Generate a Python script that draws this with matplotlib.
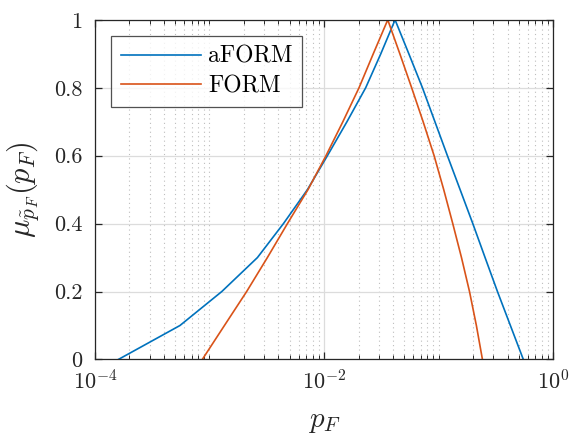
import numpy as np
import matplotlib
matplotlib.use('Agg')
import matplotlib.pyplot as plt
from matplotlib.ticker import LogLocator, NullFormatter

# LaTeX-like look
plt.rcParams['font.family'] = 'serif'
plt.rcParams['font.serif'] = ['cmr10']
plt.rcParams['mathtext.fontset'] = 'cm'
plt.rcParams['axes.formatter.use_mathtext'] = True

# membership levels (alpha-cuts), rising then falling branch
mu_levels = [0.0, 0.1, 0.2, 0.3, 0.4, 0.5, 0.6, 0.7, 0.8, 0.9, 1.0,
             0.9, 0.8, 0.7, 0.6, 0.5, 0.4, 0.3, 0.2, 0.1, 0.0]

# aFORM failure probabilities
pf_aform = [1.60e-4, 5.52e-4, 1.28e-3, 2.62e-3, 4.42e-3, 7.16e-3, 1.07e-2,
            1.585e-2, 2.31e-2, 3.13e-2, 4.17e-2,
            0.0550, 0.0723, 0.0929, 0.1194, 0.1542, 0.199, 0.2547, 0.3266, 0.4236, 0.5495]

# FORM failure probabilities
pf_form = [8.65e-4, 1.35e-3, 2.11e-3, 3.20e-3, 4.79e-3, 7.24e-3, 1.04e-2,
           1.46e-2, 2.02e-2, 2.69e-2, 3.60e-2,
           0.0459, 0.0582, 0.0733, 0.0914, 0.1109, 0.1330, 0.1585, 0.1862, 0.2138, 0.2415]

fig = plt.figure(figsize=(5.72, 4.36), dpi=100)
ax = fig.add_axes([0.166, 0.1755, 0.801, 0.779])

ax.plot(pf_aform, mu_levels, color='#0072BD', lw=1.2, label='aFORM')
ax.plot(pf_form, mu_levels, color='#D95319', lw=1.2, label='FORM')

ax.set_xscale('log')
ax.set_xlim(1e-4, 1)
ax.set_ylim(0, 1)
ax.set_xticks([1e-4, 1e-2, 1e0])
ax.xaxis.set_minor_locator(LogLocator(base=10, subs='all', numticks=20))
ax.xaxis.set_minor_formatter(NullFormatter())
ax.set_yticks([0, 0.2, 0.4, 0.6, 0.8, 1])
ax.set_yticklabels(['0', '0.2', '0.4', '0.6', '0.8', '1'])

ax.grid(True, which='major', color='#dcdcdc', lw=0.9, ls='-')
ax.grid(True, which='minor', axis='x', color='#bdbdbd', lw=0.8, ls=(0, (1, 3)))
ax.set_axisbelow(True)

ax.tick_params(which='both', direction='in', top=True, right=True,
               colors='#262626', labelsize=16, labelcolor='#262626')
ax.tick_params(which='major', length=5, width=0.9)
ax.tick_params(which='minor', length=3, width=0.7)
ax.tick_params(axis='x', pad=7)
ax.tick_params(axis='y', pad=9)
for s in ax.spines.values():
    s.set_color('#262626')
    s.set_linewidth(0.9)

ax.set_xlabel(r'$p_F$', fontsize=21, color='#262626', labelpad=11)
ax.set_ylabel(r'$\mu_{\tilde{p}_F}(p_F)$', fontsize=22, color='#262626', labelpad=9)

leg = ax.legend(loc='upper left', fontsize=17, handlelength=3.4, frameon=True,
                fancybox=False, edgecolor='#262626', borderpad=0.4,
                labelspacing=0.3, borderaxespad=0.7, handletextpad=0.3)
leg.get_frame().set_linewidth(0.9)

fig.savefig('out.png', dpi=100)
